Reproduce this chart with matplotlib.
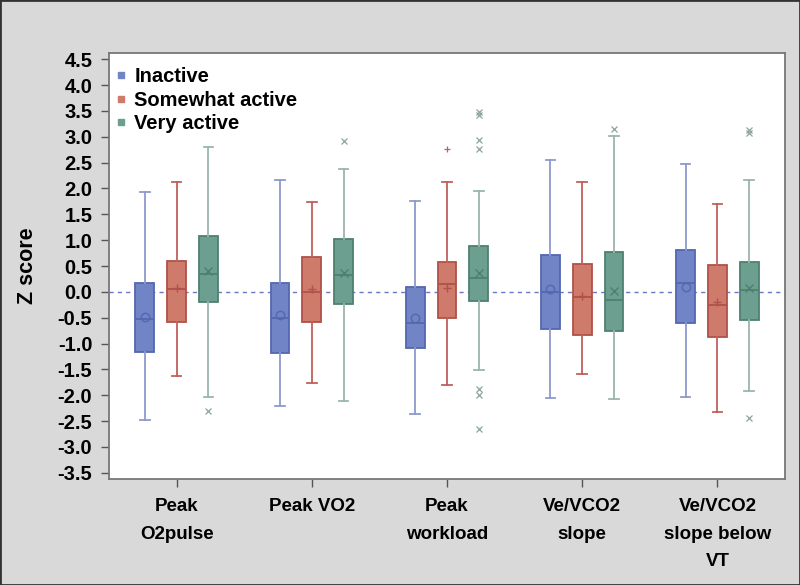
import matplotlib
matplotlib.use("Agg")
import matplotlib.pyplot as plt
from matplotlib.lines import Line2D
from matplotlib.patches import Rectangle

plt.rcParams['font.family'] = ['Liberation Sans', 'DejaVu Sans']

categories = ["Peak\nO2pulse", "Peak VO2", "Peak\nworkload", "Ve/VCO2\nslope", "Ve/VCO2\nslope below\nVT"]
groups = ["Inactive", "Somewhat active", "Very active"]

# per group, per category: lower whisker, Q1, median, Q3, upper whisker, mean
inactive_whislo = [-2.47, -2.21, -2.36, -2.06, -2.03]
inactive_q1     = [-1.16, -1.18, -1.08, -0.72, -0.61]
inactive_med    = [-0.52, -0.51, -0.60, -0.01, 0.17]
inactive_q3     = [0.18, 0.18, 0.10, 0.71, 0.80]
inactive_whishi = [1.94, 2.17, 1.76, 2.55, 2.48]
inactive_mean   = [-0.48, -0.44, -0.50, 0.05, 0.10]
inactive_out    = [[], [], [], [], []]

somewhat_whislo = [-1.63, -1.77, -1.80, -1.58, -2.33]
somewhat_q1     = [-0.58, -0.59, -0.50, -0.84, -0.88]
somewhat_med    = [0.05, -0.01, 0.15, -0.10, -0.26]
somewhat_q3     = [0.60, 0.68, 0.57, 0.54, 0.51]
somewhat_whishi = [2.12, 1.74, 2.12, 2.12, 1.70]
somewhat_mean   = [0.08, 0.05, 0.08, -0.08, -0.19]
somewhat_out    = [[], [], [2.76], [], []]

very_whislo = [-2.04, -2.11, -1.52, -2.07, -1.92]
very_q1     = [-0.20, -0.23, -0.18, -0.75, -0.55]
very_med    = [0.34, 0.32, 0.26, -0.15, 0.04]
very_q3     = [1.08, 1.02, 0.89, 0.77, 0.58]
very_whishi = [2.80, 2.37, 1.95, 3.01, 2.16]
very_mean   = [0.41, 0.37, 0.36, 0.02, 0.08]
very_out    = [[-2.30], [2.92], [3.48, 3.42, 2.93, 2.77, -1.88, -2.00, -2.66], [3.15], [3.14, 3.08, -2.44]]

yticks = [-3.5, -3.0, -2.5, -2.0, -1.5, -1.0, -0.5, 0.0, 0.5, 1.0, 1.5, 2.0, 2.5, 3.0, 3.5, 4.0, 4.5]

series = [
    (inactive_whislo, inactive_q1, inactive_med, inactive_q3, inactive_whishi, inactive_mean, inactive_out),
    (somewhat_whislo, somewhat_q1, somewhat_med, somewhat_q3, somewhat_whishi, somewhat_mean, somewhat_out),
    (very_whislo, very_q1, very_med, very_q3, very_whishi, very_mean, very_out),
]
fills = ["#7184c6", "#cf7b6c", "#6d9f91"]
edges = ["#5467b0", "#b0514a", "#4e8070"]
whisk = ["#8d9ace", "#c2605a", "#9bb6ac"]
mean_markers = ["o", "+", "x"]
out_markers = ["x", "+", "x"]
out_colors = ["#8d9ace", "#c2605a", "#8aa49c"]
offsets = [-0.235, 0.0, 0.235]

fig = plt.figure(figsize=(8, 5.85), dpi=100)
fig.patch.set_facecolor("#d9d9d9")
fig.patches.append(Rectangle((0, 0), 1, 1, transform=fig.transFigure, fill=False,
                             edgecolor="#333333", linewidth=2, zorder=10))
ax = fig.add_axes([109/800, (585-479)/585, 676/800, 426/585])
ax.set_facecolor("white")

for gi, (wl, q1, md, q3, wh, mn, outs) in enumerate(series):
    stats = []
    for ci in range(len(categories)):
        stats.append(dict(whislo=wl[ci], q1=q1[ci], med=md[ci], q3=q3[ci], whishi=wh[ci],
                          mean=mn[ci], fliers=outs[ci]))
    pos = [ci + 1 + offsets[gi] for ci in range(len(categories))]
    ax.bxp(stats, positions=pos, widths=0.14, patch_artist=True, showmeans=True,
           showfliers=True, manage_ticks=False,
           boxprops=dict(facecolor=fills[gi], edgecolor=edges[gi], linewidth=1.3),
           medianprops=dict(color=edges[gi], linewidth=1.3),
           whiskerprops=dict(color=whisk[gi], linewidth=1.3),
           capprops=dict(color=whisk[gi], linewidth=1.3),
           meanprops=dict(marker=mean_markers[gi], markerfacecolor="none",
                          markeredgecolor=edges[gi], markersize=6, markeredgewidth=1.0),
           flierprops=dict(marker=out_markers[gi], markeredgecolor=out_colors[gi],
                           markerfacecolor="none", markersize=5, markeredgewidth=0.9))

ax.axhline(0, color="#6a78c4", linestyle=(0, (3, 3)), linewidth=1.0, zorder=0.5)

ax.set_xlim(0.5, 5.5)
ax.set_ylim(-3.62, 4.62)
ax.set_yticks(yticks)
ax.set_yticklabels([f"{v:.1f}" for v in yticks], fontsize=14.5, fontweight="bold")
ax.set_xticks(range(1, len(categories) + 1))
ax.set_xticklabels(categories, fontsize=13.5, fontweight="bold", linespacing=1.8)
ax.tick_params(axis="both", length=6, width=1, color="#555555", pad=6)
ax.tick_params(axis="x", pad=8)
for s in ax.spines.values():
    s.set_color("#777777")
    s.set_linewidth(1.3)

ax.set_ylabel("Z score", fontsize=15.5, fontweight="bold", labelpad=14)

handles = [Line2D([0], [0], marker="s", color="none", markerfacecolor=fills[i],
                  markeredgecolor=fills[i], markersize=5) for i in range(3)]
ax.legend(handles, groups, loc="upper left", frameon=False,
          prop=dict(size=14.5, weight="bold"), handlelength=0.4, handletextpad=0.45,
          labelspacing=0.22, borderaxespad=0.0, bbox_to_anchor=(0.0, 0.985))

fig.savefig("out.png", dpi=100, facecolor=fig.get_facecolor())
